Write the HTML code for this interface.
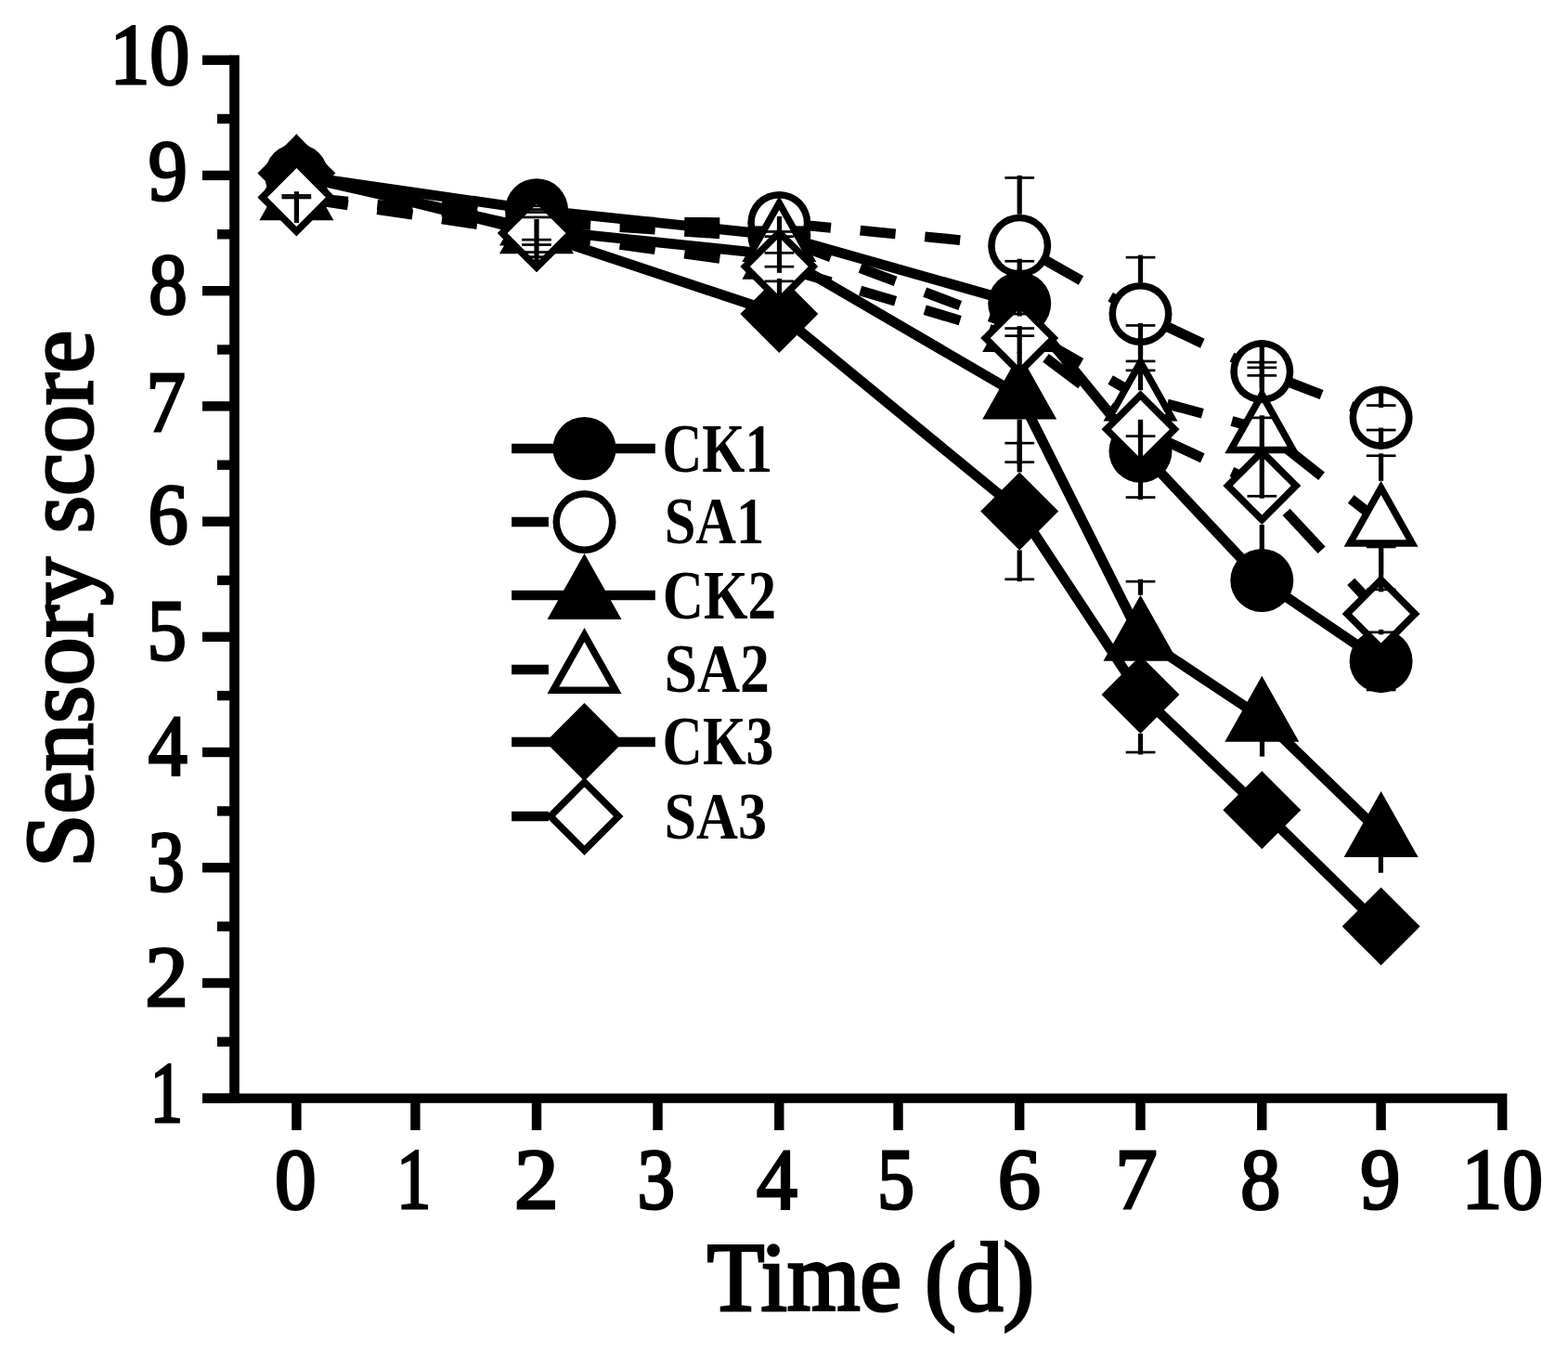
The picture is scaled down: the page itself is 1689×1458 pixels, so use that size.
<!DOCTYPE html>
<html><head><meta charset="utf-8"><title>Sensory score chart</title>
<style>html,body{margin:0;padding:0;background:#fff;}svg{display:block;}</style>
</head><body>
<svg width="1689" height="1458" viewBox="0 0 1689 1458">
<rect width="1689" height="1458" fill="#fff"/>
<rect x="247.2" y="59.4" width="10.6" height="1128.4" fill="#000"/>
<rect x="218" y="1177.5" width="1405.4" height="10.3" fill="#000"/>
<rect x="218" y="1177.5" width="30.2" height="10.4" fill="#000"/>
<rect x="218" y="1053.3" width="30.2" height="10.4" fill="#000"/>
<rect x="218" y="929.1" width="30.2" height="10.4" fill="#000"/>
<rect x="218" y="804.8" width="30.2" height="10.4" fill="#000"/>
<rect x="218" y="680.6" width="30.2" height="10.4" fill="#000"/>
<rect x="218" y="556.4" width="30.2" height="10.4" fill="#000"/>
<rect x="218" y="432.2" width="30.2" height="10.4" fill="#000"/>
<rect x="218" y="308.0" width="30.2" height="10.4" fill="#000"/>
<rect x="218" y="183.7" width="30.2" height="10.4" fill="#000"/>
<rect x="218" y="59.5" width="30.2" height="10.4" fill="#000"/>
<rect x="234" y="1116.6" width="14.2" height="10.4" fill="#000"/>
<rect x="234" y="992.4" width="14.2" height="10.4" fill="#000"/>
<rect x="234" y="868.2" width="14.2" height="10.4" fill="#000"/>
<rect x="234" y="743.9" width="14.2" height="10.4" fill="#000"/>
<rect x="234" y="619.7" width="14.2" height="10.4" fill="#000"/>
<rect x="234" y="495.5" width="14.2" height="10.4" fill="#000"/>
<rect x="234" y="371.3" width="14.2" height="10.4" fill="#000"/>
<rect x="234" y="247.1" width="14.2" height="10.4" fill="#000"/>
<rect x="234" y="122.8" width="14.2" height="10.4" fill="#000"/>
<rect x="314.2" y="1187" width="10.4" height="30.0" fill="#000"/>
<rect x="442.2" y="1187" width="10.4" height="30.0" fill="#000"/>
<rect x="572.8" y="1187" width="10.4" height="30.0" fill="#000"/>
<rect x="703.3" y="1187" width="10.4" height="30.0" fill="#000"/>
<rect x="834.1" y="1187" width="10.4" height="30.0" fill="#000"/>
<rect x="962.3" y="1187" width="10.4" height="30.0" fill="#000"/>
<rect x="1093.0" y="1187" width="10.4" height="30.0" fill="#000"/>
<rect x="1223.3" y="1187" width="10.4" height="30.0" fill="#000"/>
<rect x="1354.1" y="1187" width="10.4" height="30.0" fill="#000"/>
<rect x="1482.4" y="1187" width="10.4" height="30.0" fill="#000"/>
<rect x="1613.0" y="1187" width="10.4" height="30.0" fill="#000"/>
<text x="0" y="0" transform="translate(118.40 89.80) scale(0.9141 1)" font-family="&quot;Liberation Serif&quot;, serif" font-size="94" font-weight="normal" fill="#000" stroke="#000" stroke-width="3.0">10</text>
<text x="0" y="0" transform="translate(159.81 214.80) scale(0.8930 1)" font-family="&quot;Liberation Serif&quot;, serif" font-size="94" font-weight="normal" fill="#000" stroke="#000" stroke-width="3.0">9</text>
<text x="0" y="0" transform="translate(160.23 336.50) scale(0.8837 1)" font-family="&quot;Liberation Serif&quot;, serif" font-size="94" font-weight="normal" fill="#000" stroke="#000" stroke-width="3.0">8</text>
<text x="0" y="0" transform="translate(157.50 463.60) scale(0.9000 1)" font-family="&quot;Liberation Serif&quot;, serif" font-size="94" font-weight="normal" fill="#000" stroke="#000" stroke-width="3.0">7</text>
<text x="0" y="0" transform="translate(159.44 585.40) scale(0.9186 1)" font-family="&quot;Liberation Serif&quot;, serif" font-size="94" font-weight="normal" fill="#000" stroke="#000" stroke-width="3.0">6</text>
<text x="0" y="0" transform="translate(158.59 710.00) scale(0.9024 1)" font-family="&quot;Liberation Serif&quot;, serif" font-size="94" font-weight="normal" fill="#000" stroke="#000" stroke-width="3.0">5</text>
<text x="0" y="0" transform="translate(159.70 834.40) scale(0.8936 1)" font-family="&quot;Liberation Serif&quot;, serif" font-size="94" font-weight="normal" fill="#000" stroke="#000" stroke-width="3.0">4</text>
<text x="0" y="0" transform="translate(159.39 958.50) scale(0.8357 1)" font-family="&quot;Liberation Serif&quot;, serif" font-size="94" font-weight="normal" fill="#000" stroke="#000" stroke-width="3.0">3</text>
<text x="0" y="0" transform="translate(156.33 1082.50) scale(0.9900 1)" font-family="&quot;Liberation Serif&quot;, serif" font-size="94" font-weight="normal" fill="#000" stroke="#000" stroke-width="3.0">2</text>
<text x="0" y="0" transform="translate(161.75 1207.80) scale(0.7500 1)" font-family="&quot;Liberation Serif&quot;, serif" font-size="94" font-weight="normal" fill="#000" stroke="#000" stroke-width="3.0">1</text>
<text x="0" y="0" transform="translate(296.00 1301.30) scale(0.9512 1)" font-family="&quot;Liberation Serif&quot;, serif" font-size="94" font-weight="normal" fill="#000" stroke="#000" stroke-width="3.0">0</text>
<text x="0" y="0" transform="translate(427.04 1301.30) scale(0.7944 1)" font-family="&quot;Liberation Serif&quot;, serif" font-size="94" font-weight="normal" fill="#000" stroke="#000" stroke-width="3.0">1</text>
<text x="0" y="0" transform="translate(553.96 1301.30) scale(1.0150 1)" font-family="&quot;Liberation Serif&quot;, serif" font-size="94" font-weight="normal" fill="#000" stroke="#000" stroke-width="3.0">2</text>
<text x="0" y="0" transform="translate(686.61 1301.30) scale(0.8619 1)" font-family="&quot;Liberation Serif&quot;, serif" font-size="94" font-weight="normal" fill="#000" stroke="#000" stroke-width="3.0">3</text>
<text x="0" y="0" transform="translate(815.00 1301.30) scale(0.9340 1)" font-family="&quot;Liberation Serif&quot;, serif" font-size="94" font-weight="normal" fill="#000" stroke="#000" stroke-width="3.0">4</text>
<text x="0" y="0" transform="translate(945.00 1301.30) scale(0.8512 1)" font-family="&quot;Liberation Serif&quot;, serif" font-size="94" font-weight="normal" fill="#000" stroke="#000" stroke-width="3.0">5</text>
<text x="0" y="0" transform="translate(1074.75 1301.30) scale(0.9837 1)" font-family="&quot;Liberation Serif&quot;, serif" font-size="94" font-weight="normal" fill="#000" stroke="#000" stroke-width="3.0">6</text>
<text x="0" y="0" transform="translate(1201.28 1301.30) scale(0.9634 1)" font-family="&quot;Liberation Serif&quot;, serif" font-size="94" font-weight="normal" fill="#000" stroke="#000" stroke-width="3.0">7</text>
<text x="0" y="0" transform="translate(1336.37 1301.30) scale(0.9163 1)" font-family="&quot;Liberation Serif&quot;, serif" font-size="94" font-weight="normal" fill="#000" stroke="#000" stroke-width="3.0">8</text>
<text x="0" y="0" transform="translate(1465.17 1301.30) scale(0.9163 1)" font-family="&quot;Liberation Serif&quot;, serif" font-size="94" font-weight="normal" fill="#000" stroke="#000" stroke-width="3.0">9</text>
<text x="0" y="0" transform="translate(1574.48 1301.30) scale(0.9318 1)" font-family="&quot;Liberation Serif&quot;, serif" font-size="94" font-weight="normal" fill="#000" stroke="#000" stroke-width="3.0">10</text>
<text x="0" y="0" transform="translate(761.80 1411.40) scale(0.9609 1)" font-family="&quot;Liberation Serif&quot;, serif" font-size="105" font-weight="normal" fill="#000" stroke="#000" stroke-width="3.2">Time (d)</text>
<text x="0" y="0" transform="translate(98.50 934.01) rotate(-90) scale(1.0018 1)" font-family="&quot;Liberation Serif&quot;, serif" font-size="103.4" font-weight="normal" fill="#000" stroke="#000" stroke-width="3.2">Sensory score</text>
<text x="0" y="0" transform="translate(713.56 507.70) scale(0.8351 1.0277)" font-family="&quot;Liberation Serif&quot;, serif" font-size="71" font-weight="bold" fill="#000">CK1</text>
<text x="0" y="0" transform="translate(715.69 584.70) scale(0.8529 1.0149)" font-family="&quot;Liberation Serif&quot;, serif" font-size="71" font-weight="bold" fill="#000">SA1</text>
<text x="0" y="0" transform="translate(713.65 665.50) scale(0.8637 1.0319)" font-family="&quot;Liberation Serif&quot;, serif" font-size="71" font-weight="bold" fill="#000">CK2</text>
<text x="0" y="0" transform="translate(715.40 745.30) scale(0.8992 1.0277)" font-family="&quot;Liberation Serif&quot;, serif" font-size="71" font-weight="bold" fill="#000">SA2</text>
<text x="0" y="0" transform="translate(713.62 823.00) scale(0.8441 1.0298)" font-family="&quot;Liberation Serif&quot;, serif" font-size="71" font-weight="bold" fill="#000">CK3</text>
<text x="0" y="0" transform="translate(715.49 902.50) scale(0.8767 1.0064)" font-family="&quot;Liberation Serif&quot;, serif" font-size="71" font-weight="bold" fill="#000">SA3</text>
<polyline points="319.4,188.9 578.0,226.2 839.3,253.5 1098.2,326.8 1228.5,485.8 1359.3,625.0 1487.6,711.9" fill="none" stroke="#000" stroke-width="10.9" stroke-linejoin="round"/>
<line x1="545.6" y1="232.4" x2="578.0" y2="238.6" stroke="#000" stroke-width="10.9"/>
<line x1="476.0" y1="219.0" x2="514.0" y2="226.3" stroke="#000" stroke-width="10.9"/>
<line x1="406.4" y1="205.7" x2="444.4" y2="213.0" stroke="#000" stroke-width="10.9"/>
<line x1="336.8" y1="192.3" x2="374.8" y2="199.6" stroke="#000" stroke-width="10.9"/>
<line x1="806.9" y1="239.7" x2="839.3" y2="239.9" stroke="#000" stroke-width="10.9"/>
<line x1="737.3" y1="239.4" x2="775.3" y2="239.6" stroke="#000" stroke-width="10.9"/>
<line x1="667.7" y1="239.1" x2="705.7" y2="239.2" stroke="#000" stroke-width="10.9"/>
<line x1="598.1" y1="238.7" x2="636.1" y2="238.9" stroke="#000" stroke-width="10.9"/>
<line x1="1065.8" y1="261.6" x2="1098.2" y2="264.7" stroke="#000" stroke-width="10.9"/>
<line x1="996.2" y1="254.9" x2="1034.2" y2="258.6" stroke="#000" stroke-width="10.9"/>
<line x1="926.6" y1="248.2" x2="964.6" y2="251.9" stroke="#000" stroke-width="10.9"/>
<line x1="857.0" y1="241.6" x2="895.0" y2="245.2" stroke="#000" stroke-width="10.9"/>
<line x1="1196.1" y1="319.8" x2="1228.5" y2="338.0" stroke="#000" stroke-width="10.9"/>
<line x1="1126.5" y1="280.6" x2="1164.5" y2="302.0" stroke="#000" stroke-width="10.9"/>
<line x1="1326.9" y1="384.7" x2="1359.3" y2="400.1" stroke="#000" stroke-width="10.9"/>
<line x1="1257.3" y1="351.7" x2="1295.3" y2="369.7" stroke="#000" stroke-width="10.9"/>
<line x1="1455.2" y1="437.3" x2="1487.6" y2="449.8" stroke="#000" stroke-width="10.9"/>
<line x1="1385.6" y1="410.3" x2="1423.6" y2="425.0" stroke="#000" stroke-width="10.9"/>
<polyline points="319.4,188.9 578.0,247.3 839.3,274.7 1098.2,425.6 1228.5,685.8 1359.3,772.8 1487.6,897.0" fill="none" stroke="#000" stroke-width="10.9" stroke-linejoin="round"/>
<line x1="545.6" y1="235.2" x2="578.0" y2="238.6" stroke="#000" stroke-width="10.9"/>
<line x1="476.0" y1="227.8" x2="514.0" y2="231.9" stroke="#000" stroke-width="10.9"/>
<line x1="406.4" y1="220.5" x2="444.4" y2="224.5" stroke="#000" stroke-width="10.9"/>
<line x1="336.8" y1="213.1" x2="374.8" y2="217.2" stroke="#000" stroke-width="10.9"/>
<line x1="806.9" y1="253.9" x2="839.3" y2="256.0" stroke="#000" stroke-width="10.9"/>
<line x1="737.3" y1="249.2" x2="775.3" y2="251.8" stroke="#000" stroke-width="10.9"/>
<line x1="667.7" y1="244.6" x2="705.7" y2="247.1" stroke="#000" stroke-width="10.9"/>
<line x1="598.1" y1="240.0" x2="636.1" y2="242.5" stroke="#000" stroke-width="10.9"/>
<line x1="1065.8" y1="340.8" x2="1098.2" y2="352.9" stroke="#000" stroke-width="10.9"/>
<line x1="996.2" y1="314.7" x2="1034.2" y2="329.0" stroke="#000" stroke-width="10.9"/>
<line x1="926.6" y1="288.7" x2="964.6" y2="302.9" stroke="#000" stroke-width="10.9"/>
<line x1="857.0" y1="262.6" x2="895.0" y2="276.9" stroke="#000" stroke-width="10.9"/>
<line x1="1196.1" y1="408.9" x2="1228.5" y2="427.4" stroke="#000" stroke-width="10.9"/>
<line x1="1126.5" y1="369.1" x2="1164.5" y2="390.8" stroke="#000" stroke-width="10.9"/>
<line x1="1326.9" y1="453.6" x2="1359.3" y2="462.2" stroke="#000" stroke-width="10.9"/>
<line x1="1257.3" y1="435.1" x2="1295.3" y2="445.2" stroke="#000" stroke-width="10.9"/>
<line x1="1455.2" y1="537.4" x2="1487.6" y2="562.8" stroke="#000" stroke-width="10.9"/>
<line x1="1385.6" y1="482.8" x2="1423.6" y2="512.7" stroke="#000" stroke-width="10.9"/>
<polyline points="319.4,186.5 578.0,251.1 839.3,338.0 1098.2,550.4 1228.5,747.9 1359.3,872.2 1487.6,997.6" fill="none" stroke="#000" stroke-width="10.9" stroke-linejoin="round"/>
<line x1="545.6" y1="246.2" x2="578.0" y2="251.1" stroke="#000" stroke-width="10.9"/>
<line x1="476.0" y1="235.9" x2="514.0" y2="241.5" stroke="#000" stroke-width="10.9"/>
<line x1="406.4" y1="225.5" x2="444.4" y2="231.2" stroke="#000" stroke-width="10.9"/>
<line x1="336.8" y1="215.1" x2="374.8" y2="220.8" stroke="#000" stroke-width="10.9"/>
<line x1="806.9" y1="282.6" x2="839.3" y2="287.1" stroke="#000" stroke-width="10.9"/>
<line x1="737.3" y1="273.0" x2="775.3" y2="278.3" stroke="#000" stroke-width="10.9"/>
<line x1="667.7" y1="263.4" x2="705.7" y2="268.7" stroke="#000" stroke-width="10.9"/>
<line x1="598.1" y1="253.8" x2="636.1" y2="259.1" stroke="#000" stroke-width="10.9"/>
<line x1="1065.8" y1="354.5" x2="1098.2" y2="364.1" stroke="#000" stroke-width="10.9"/>
<line x1="996.2" y1="333.7" x2="1034.2" y2="345.1" stroke="#000" stroke-width="10.9"/>
<line x1="926.6" y1="313.0" x2="964.6" y2="324.3" stroke="#000" stroke-width="10.9"/>
<line x1="857.0" y1="292.3" x2="895.0" y2="303.6" stroke="#000" stroke-width="10.9"/>
<line x1="1196.1" y1="437.8" x2="1228.5" y2="462.2" stroke="#000" stroke-width="10.9"/>
<line x1="1126.5" y1="385.4" x2="1164.5" y2="414.0" stroke="#000" stroke-width="10.9"/>
<line x1="1326.9" y1="508.0" x2="1359.3" y2="523.1" stroke="#000" stroke-width="10.9"/>
<line x1="1257.3" y1="475.6" x2="1295.3" y2="493.3" stroke="#000" stroke-width="10.9"/>
<line x1="1455.2" y1="626.2" x2="1487.6" y2="661.0" stroke="#000" stroke-width="10.9"/>
<line x1="1385.6" y1="551.4" x2="1423.6" y2="592.2" stroke="#000" stroke-width="10.9"/>
<circle cx="319.4" cy="188.9" r="34.0" fill="#000"/>
<circle cx="578.0" cy="226.2" r="34.0" fill="#000"/>
<circle cx="839.3" cy="253.5" r="34.0" fill="#000"/>
<circle cx="1098.2" cy="326.8" r="34.0" fill="#000"/>
<circle cx="1228.5" cy="485.8" r="34.0" fill="#000"/>
<circle cx="1359.3" cy="625.0" r="34.0" fill="#000"/>
<circle cx="1487.6" cy="711.9" r="34.0" fill="#000"/>
<circle cx="319.4" cy="188.9" r="34.0" fill="#000"/><circle cx="319.4" cy="188.9" r="26.5" fill="#fff"/>
<circle cx="578.0" cy="238.6" r="34.0" fill="#000"/>
<circle cx="839.3" cy="239.9" r="34.0" fill="#000"/><circle cx="839.3" cy="239.9" r="26.5" fill="#fff"/>
<circle cx="1098.2" cy="264.7" r="34.0" fill="#000"/><circle cx="1098.2" cy="264.7" r="26.5" fill="#fff"/>
<circle cx="1228.5" cy="338.0" r="34.0" fill="#000"/><circle cx="1228.5" cy="338.0" r="26.5" fill="#fff"/>
<circle cx="1359.3" cy="400.1" r="34.0" fill="#000"/><circle cx="1359.3" cy="400.1" r="26.5" fill="#fff"/>
<circle cx="1487.6" cy="449.8" r="34.0" fill="#000"/><circle cx="1487.6" cy="449.8" r="26.5" fill="#fff"/>
<defs><clipPath id="c4"><circle cx="839.3" cy="239.9" r="27.0"/></clipPath></defs>
<rect x="805.3" y="243.4" width="68" height="40" fill="#000" clip-path="url(#c4)"/>
<polygon points="319.4,143.9 359.4,214.9 279.4,214.9" fill="#000"/>
<polygon points="578.0,202.3 618.0,273.3 538.0,273.3" fill="#000"/>
<polygon points="839.3,229.7 879.3,300.7 799.3,300.7" fill="#000"/>
<polygon points="1098.2,380.6 1138.2,451.6 1058.2,451.6" fill="#000"/>
<polygon points="1228.5,640.8 1268.5,711.8 1188.5,711.8" fill="#000"/>
<polygon points="1359.3,727.8 1399.3,798.8 1319.3,798.8" fill="#000"/>
<polygon points="1487.6,852.0 1527.6,923.0 1447.6,923.0" fill="#000"/>
<polygon points="319.4,166.3 359.4,237.3 279.4,237.3" fill="#000"/>
<polygon points="578.0,193.6 618.0,264.6 538.0,264.6" fill="#000"/>
<polygon points="839.3,211.0 879.3,282.0 799.3,282.0" fill="#000"/><polygon points="839.3,226.3 866.5,274.5 812.1,274.5" fill="#fff"/>
<polygon points="1098.2,307.9 1138.2,378.9 1058.2,378.9" fill="#000"/><polygon points="1098.2,323.2 1125.4,371.4 1071.0,371.4" fill="#fff"/>
<polygon points="1228.5,382.4 1268.5,453.4 1188.5,453.4" fill="#000"/><polygon points="1228.5,397.7 1255.7,445.9 1201.3,445.9" fill="#fff"/>
<polygon points="1359.3,417.2 1399.3,488.2 1319.3,488.2" fill="#000"/><polygon points="1359.3,432.5 1386.5,480.7 1332.1,480.7" fill="#fff"/>
<polygon points="1487.6,517.8 1527.6,588.8 1447.6,588.8" fill="#000"/><polygon points="1487.6,533.1 1514.8,581.3 1460.4,581.3" fill="#fff"/>
<polygon points="319.4,144.5 361.4,186.5 319.4,228.5 277.4,186.5" fill="#000"/>
<polygon points="578.0,209.1 620.0,251.1 578.0,293.1 536.0,251.1" fill="#000"/>
<polygon points="839.3,296.0 881.3,338.0 839.3,380.0 797.3,338.0" fill="#000"/>
<polygon points="1098.2,508.4 1140.2,550.4 1098.2,592.4 1056.2,550.4" fill="#000"/>
<polygon points="1228.5,705.9 1270.5,747.9 1228.5,789.9 1186.5,747.9" fill="#000"/>
<polygon points="1359.3,830.2 1401.3,872.2 1359.3,914.2 1317.3,872.2" fill="#000"/>
<polygon points="1487.6,955.6 1529.6,997.6 1487.6,1039.6 1445.6,997.6" fill="#000"/>
<polygon points="319.4,170.5 361.4,212.5 319.4,254.5 277.4,212.5" fill="#000"/><polygon points="319.4,181.1 350.8,212.5 319.4,243.9 288.0,212.5" fill="#fff"/>
<polygon points="578.0,209.1 620.0,251.1 578.0,293.1 536.0,251.1" fill="#000"/><polygon points="578.0,219.7 609.4,251.1 578.0,282.4 546.6,251.1" fill="#fff"/>
<polygon points="839.3,245.1 881.3,287.1 839.3,329.1 797.3,287.1" fill="#000"/><polygon points="839.3,255.7 870.7,287.1 839.3,318.5 807.9,287.1" fill="#fff"/>
<polygon points="1098.2,322.1 1140.2,364.1 1098.2,406.1 1056.2,364.1" fill="#000"/><polygon points="1098.2,332.7 1129.6,364.1 1098.2,395.5 1066.8,364.1" fill="#fff"/>
<polygon points="1228.5,420.2 1270.5,462.2 1228.5,504.2 1186.5,462.2" fill="#000"/><polygon points="1228.5,430.8 1259.9,462.2 1228.5,493.6 1197.1,462.2" fill="#fff"/>
<polygon points="1359.3,481.1 1401.3,523.1 1359.3,565.1 1317.3,523.1" fill="#000"/><polygon points="1359.3,491.7 1390.7,523.1 1359.3,554.5 1327.9,523.1" fill="#fff"/>
<polygon points="1487.6,619.0 1529.6,661.0 1487.6,703.0 1445.6,661.0" fill="#000"/><polygon points="1487.6,629.6 1519.0,661.0 1487.6,692.4 1456.2,661.0" fill="#fff"/>
<rect x="1095.6" y="289.5" width="5.2" height="3.3" fill="#000"/>
<rect x="1082.4" y="290.7" width="31.7" height="2.7" fill="#000"/>
<rect x="1095.6" y="360.8" width="5.2" height="3.3" fill="#000"/>
<rect x="1082.4" y="360.3" width="31.7" height="2.7" fill="#000"/>
<rect x="1225.9" y="451.8" width="5.2" height="20.4" fill="#000"/>
<rect x="1212.7" y="468.3" width="31.7" height="2.7" fill="#000"/>
<rect x="1225.9" y="499.5" width="5.2" height="20.4" fill="#000"/>
<rect x="1212.7" y="500.6" width="31.7" height="2.7" fill="#000"/>
<rect x="1356.7" y="591.0" width="5.2" height="11.7" fill="#000"/>
<rect x="1343.5" y="598.8" width="31.7" height="2.7" fill="#000"/>
<rect x="1356.7" y="647.3" width="5.2" height="11.7" fill="#000"/>
<rect x="1343.5" y="648.4" width="31.7" height="2.7" fill="#000"/>
<rect x="1485.0" y="677.9" width="5.2" height="5.4" fill="#000"/>
<rect x="1471.8" y="679.5" width="31.7" height="2.7" fill="#000"/>
<rect x="1485.0" y="740.5" width="5.2" height="5.4" fill="#000"/>
<rect x="1471.8" y="741.6" width="31.7" height="2.7" fill="#000"/>
<rect x="1095.6" y="188.9" width="5.2" height="41.8" fill="#000"/>
<rect x="1082.4" y="190.1" width="31.7" height="2.7" fill="#000"/>
<rect x="1095.6" y="298.7" width="5.2" height="41.8" fill="#000"/>
<rect x="1082.4" y="336.7" width="31.7" height="2.7" fill="#000"/>
<rect x="1225.9" y="274.6" width="5.2" height="29.4" fill="#000"/>
<rect x="1212.7" y="275.8" width="31.7" height="2.7" fill="#000"/>
<rect x="1225.9" y="372.0" width="5.2" height="29.4" fill="#000"/>
<rect x="1212.7" y="397.5" width="31.7" height="2.7" fill="#000"/>
<rect x="1356.7" y="366.1" width="5.2" height="32.3" fill="#000"/>
<rect x="1343.5" y="394.5" width="31.7" height="2.7" fill="#000"/>
<rect x="1356.7" y="401.8" width="5.2" height="32.3" fill="#000"/>
<rect x="1343.5" y="403.0" width="31.7" height="2.7" fill="#000"/>
<rect x="1485.0" y="415.8" width="5.2" height="23.2" fill="#000"/>
<rect x="1471.8" y="435.2" width="31.7" height="2.7" fill="#000"/>
<rect x="1485.0" y="460.6" width="5.2" height="23.2" fill="#000"/>
<rect x="1471.8" y="461.7" width="31.7" height="2.7" fill="#000"/>
<rect x="1095.6" y="351.0" width="5.2" height="29.5" fill="#000"/>
<rect x="1082.4" y="352.2" width="31.7" height="2.7" fill="#000"/>
<rect x="1095.6" y="451.6" width="5.2" height="48.5" fill="#000"/>
<rect x="1082.4" y="496.3" width="31.7" height="2.7" fill="#000"/>
<rect x="1225.9" y="623.7" width="5.2" height="17.1" fill="#000"/>
<rect x="1212.7" y="624.8" width="31.7" height="2.7" fill="#000"/>
<rect x="1225.9" y="711.8" width="5.2" height="36.1" fill="#000"/>
<rect x="1212.7" y="744.1" width="31.7" height="2.7" fill="#000"/>
<rect x="1095.6" y="278.7" width="5.2" height="29.2" fill="#000"/>
<rect x="1082.4" y="279.9" width="31.7" height="2.7" fill="#000"/>
<rect x="1095.6" y="378.9" width="5.2" height="48.2" fill="#000"/>
<rect x="1082.4" y="423.2" width="31.7" height="2.7" fill="#000"/>
<rect x="1225.9" y="347.9" width="5.2" height="34.5" fill="#000"/>
<rect x="1212.7" y="349.1" width="31.7" height="2.7" fill="#000"/>
<rect x="1225.9" y="453.4" width="5.2" height="53.5" fill="#000"/>
<rect x="1212.7" y="503.1" width="31.7" height="2.7" fill="#000"/>
<rect x="1356.7" y="387.7" width="5.2" height="29.5" fill="#000"/>
<rect x="1343.5" y="388.8" width="31.7" height="2.7" fill="#000"/>
<rect x="1356.7" y="488.2" width="5.2" height="48.5" fill="#000"/>
<rect x="1343.5" y="532.9" width="31.7" height="2.7" fill="#000"/>
<rect x="1485.0" y="488.3" width="5.2" height="29.5" fill="#000"/>
<rect x="1471.8" y="489.4" width="31.7" height="2.7" fill="#000"/>
<rect x="1485.0" y="588.8" width="5.2" height="48.5" fill="#000"/>
<rect x="1471.8" y="633.5" width="31.7" height="2.7" fill="#000"/>
<rect x="1095.6" y="474.6" width="5.2" height="33.8" fill="#000"/>
<rect x="1082.4" y="475.8" width="31.7" height="2.7" fill="#000"/>
<rect x="1095.6" y="592.4" width="5.2" height="33.8" fill="#000"/>
<rect x="1082.4" y="622.4" width="31.7" height="2.7" fill="#000"/>
<rect x="1225.9" y="683.3" width="5.2" height="22.6" fill="#000"/>
<rect x="1212.7" y="684.5" width="31.7" height="2.7" fill="#000"/>
<rect x="1225.9" y="789.9" width="5.2" height="22.6" fill="#000"/>
<rect x="1212.7" y="808.7" width="31.7" height="2.7" fill="#000"/>
<rect x="1225.9" y="386.4" width="5.2" height="33.8" fill="#000"/>
<rect x="1212.7" y="387.6" width="31.7" height="2.7" fill="#000"/>
<rect x="1225.9" y="504.2" width="5.2" height="33.8" fill="#000"/>
<rect x="1212.7" y="534.2" width="31.7" height="2.7" fill="#000"/>
<rect x="1356.7" y="447.3" width="5.2" height="33.8" fill="#000"/>
<rect x="1343.5" y="448.5" width="31.7" height="2.7" fill="#000"/>
<rect x="1356.7" y="565.1" width="5.2" height="33.8" fill="#000"/>
<rect x="1343.5" y="595.0" width="31.7" height="2.7" fill="#000"/>
<rect x="1485.0" y="586.4" width="5.2" height="32.5" fill="#000"/>
<rect x="1471.8" y="587.6" width="31.7" height="2.7" fill="#000"/>
<rect x="1485.0" y="703.0" width="5.2" height="32.5" fill="#000"/>
<rect x="1471.8" y="731.7" width="31.7" height="2.7" fill="#000"/>
<rect x="1356.9" y="798.0" width="5.2" height="16.6" fill="#000"/>
<rect x="1484.8" y="920.9" width="5.2" height="18.9" fill="#000"/>
<rect x="316.8" y="206.2" width="5.2" height="33.8" fill="#000"/>
<rect x="575.4" y="236.0" width="5.2" height="46.0" fill="#000"/>
<rect x="836.9" y="232.9" width="5.2" height="60.9" fill="#000"/>
<rect x="836.9" y="300.0" width="5.2" height="18.0" fill="#000"/>
<rect x="303.5" y="209.1" width="31.7" height="2.7" fill="#000"/>
<rect x="303.5" y="211.6" width="31.7" height="2.7" fill="#000"/>
<rect x="562.1" y="220.5" width="31.7" height="2.7" fill="#000"/>
<rect x="562.1" y="224.2" width="31.7" height="2.7" fill="#000"/>
<rect x="562.1" y="227.2" width="31.7" height="2.7" fill="#000"/>
<rect x="562.1" y="232.6" width="31.7" height="2.7" fill="#000"/>
<rect x="562.1" y="256.8" width="31.7" height="2.7" fill="#000"/>
<rect x="562.1" y="262.2" width="31.7" height="2.7" fill="#000"/>
<rect x="562.1" y="270.2" width="31.7" height="2.7" fill="#000"/>
<rect x="562.1" y="275.3" width="31.7" height="2.7" fill="#000"/>
<rect x="823.6" y="248.1" width="31.7" height="2.7" fill="#000"/>
<rect x="823.6" y="253.3" width="31.7" height="2.7" fill="#000"/>
<rect x="823.6" y="271.0" width="31.7" height="2.7" fill="#000"/>
<rect x="823.6" y="285.8" width="31.7" height="2.7" fill="#000"/>
<rect x="823.6" y="301.5" width="31.7" height="2.7" fill="#000"/>
<line x1="551.1" y1="483" x2="705.8" y2="483" stroke="#000" stroke-width="10.6"/>
<circle cx="629.5" cy="483.0" r="34.0" fill="#000"/>
<line x1="551.1" y1="562" x2="590.9" y2="562" stroke="#000" stroke-width="10.6"/>
<circle cx="629.5" cy="562.0" r="34.0" fill="#000"/><circle cx="629.5" cy="562.0" r="26.5" fill="#fff"/>
<line x1="551.1" y1="641" x2="705.8" y2="641" stroke="#000" stroke-width="10.6"/>
<polygon points="629.5,596.0 669.5,667.0 589.5,667.0" fill="#000"/>
<line x1="551.1" y1="721" x2="590.9" y2="721" stroke="#000" stroke-width="10.6"/>
<polygon points="629.5,676.0 669.5,747.0 589.5,747.0" fill="#000"/><polygon points="629.5,691.3 656.7,739.5 602.3,739.5" fill="#fff"/>
<line x1="551.1" y1="799" x2="705.8" y2="799" stroke="#000" stroke-width="10.6"/>
<polygon points="629.5,757.0 671.5,799.0 629.5,841.0 587.5,799.0" fill="#000"/>
<line x1="551.1" y1="879" x2="590.9" y2="879" stroke="#000" stroke-width="10.6"/>
<polygon points="629.5,837.0 671.5,879.0 629.5,921.0 587.5,879.0" fill="#000"/><polygon points="629.5,847.6 660.9,879.0 629.5,910.4 598.1,879.0" fill="#fff"/>
</svg>
</body></html>
